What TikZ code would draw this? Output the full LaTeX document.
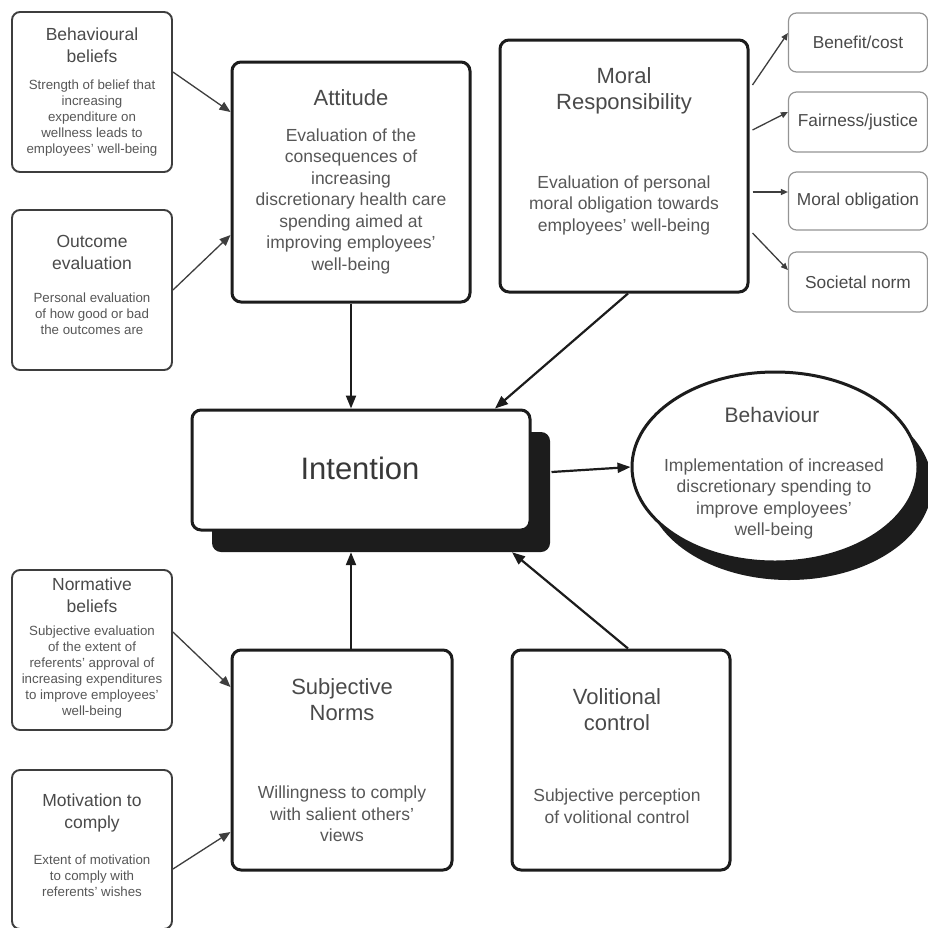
\documentclass[tikz,border=0pt]{standalone}
\usepackage{fontspec}
\setmainfont{Liberation Sans}
\usetikzlibrary{arrows.meta,shapes.geometric}
\definecolor{ttl}{HTML}{4A4A4A}
\definecolor{bdy}{HTML}{575757}
\definecolor{ink}{HTML}{1C1C1C}
\begin{document}
\begin{tikzpicture}[x=1pt,y=-1pt,
  smallbox/.style={draw=ink!85, line width=1.9pt, rounded corners=8pt, fill=white, inner sep=0pt},
  mainbox/.style={draw=ink, line width=3pt, rounded corners=9pt, fill=white, inner sep=0pt},
  optbox/.style={draw=black!42, line width=1.2pt, rounded corners=8pt, fill=white, inner sep=0pt},
  mtitle/.style={align=center, text=ttl, font=\fontsize{22}{26}\selectfont, inner sep=0pt},
  mbody/.style={align=center, text=bdy, font=\fontsize{17.5}{21.5}\selectfont, inner sep=0pt},
  stitle/.style={align=center, text=ttl, font=\fontsize{17.5}{22}\selectfont, inner sep=0pt},
  sbody/.style={align=center, text=bdy, font=\fontsize{13.3}{16}\selectfont, inner sep=0pt},
  otext/.style={align=center, text=ttl, font=\fontsize{17.3}{21}\selectfont, inner sep=0pt},
  bigarr/.style={draw=ink, line width=2.2pt, -{Triangle[length=13pt,width=10pt]}},
  smallarr/.style={draw=ink!85, line width=1.3pt, -{Triangle[length=11pt,width=9pt]}},
  optarr/.style={draw=ink!85, line width=1.3pt, -{Triangle[length=7pt,width=6pt]}}
]
\useasboundingbox (0,0) rectangle (928,927);
\clip (0,0) rectangle (928,927);
\fill[white] (0,0) rectangle (928,927);

% left column boxes
\node[smallbox, minimum width=160pt, minimum height=160pt] (bb) at (92,92) {};
\node[stitle] (bbt) at (92,45) {Behavioural\\beliefs};
\node[sbody] (bbb) at (92,118) {Strength of belief that\\increasing\\expenditure on\\wellness leads to\\employees’ well-being};

\node[smallbox, minimum width=160pt, minimum height=160pt] (oe) at (92,290) {};
\node[stitle] (oet) at (92,252) {Outcome\\evaluation};
\node[sbody] (oeb) at (92,314) {Personal evaluation\\of how good or bad\\the outcomes are};

\node[smallbox, minimum width=160pt, minimum height=160pt] (nb) at (92,650) {};
\node[stitle] (nbt) at (92,595) {Normative\\beliefs};
\node[sbody] (nbb) at (92,672) {Subjective evaluation\\of the extent of\\referents’ approval of\\increasing expenditures\\to improve employees’\\well-being};

\node[smallbox, minimum width=160pt, minimum height=159pt] (mc) at (92,849.5) {};
\node[stitle] (mct) at (92,813) {Motivation to\\comply};
\node[sbody] (mcb) at (92,876) {Extent of motivation\\to comply with\\referents’ wishes};

% main boxes
\node[mainbox, minimum width=238pt, minimum height=240pt] (att) at (351,182) {};
\node[mtitle] (attt) at (351,98) {Attitude};
\node[mbody] (attb) at (351,201) {Evaluation of the\\consequences of\\increasing\\discretionary health care\\spending aimed at\\improving employees’\\well-being};

\node[mainbox, minimum width=248pt, minimum height=252pt] (mor) at (624,166) {};
\node[mtitle] (mort) at (624,91) {Moral\\Responsibility};
\node[mbody] (morb) at (624,205) {Evaluation of personal\\moral obligation towards\\employees’ well-being};

% option boxes on the right
\node[optbox, minimum width=139pt, minimum height=59pt] (ben) at (858,42.5) {};
\node[otext] at (ben) {Benefit/cost};
\node[optbox, minimum width=139pt, minimum height=60pt] (fair) at (858,122) {};
\node[otext] at (fair) {Fairness/justice};
\node[optbox, minimum width=139pt, minimum height=58pt] (mob) at (858,201) {};
\node[otext] at (mob) {Moral obligation};
\node[optbox, minimum width=139pt, minimum height=60pt] (soc) at (858,282) {};
\node[otext] at (soc) {Societal norm};

% intention with shadow
\node[fill=ink, rounded corners=9pt, minimum width=338pt, minimum height=120pt, inner sep=0pt] (intsh) at (381,492) {};
\node[mainbox, minimum width=338pt, minimum height=120pt] (int) at (361,470) {};
\node[text=black!78, font=\fontsize{31}{36}\selectfont, inner sep=0pt] (intt) at (360,468) {Intention};

% behaviour ellipse with shadow
\node[ellipse, fill=ink, minimum width=286pt, minimum height=190pt, inner sep=0pt] (behsh) at (789,485) {};
\node[ellipse, draw=ink, line width=3pt, fill=white, minimum width=286pt, minimum height=190pt, inner sep=0pt] (beh) at (775,467) {};
\node[mtitle, font=\fontsize{21}{25}\selectfont] (beht) at (772,415) {Behaviour};
\node[mbody] (behb) at (774,499) {Implementation of increased\\discretionary spending to\\improve employees’\\well-being};

% lower main boxes
\node[mainbox, minimum width=220pt, minimum height=220pt] (sn) at (342,760) {};
\node[mtitle] (snt) at (342,700) {Subjective\\Norms};
\node[mbody] (snb) at (342,814) {Willingness to comply\\with salient others’\\views};

\node[mainbox, minimum width=218pt, minimum height=220pt] (vc) at (621,760) {};
\node[mtitle] (vct) at (617,710) {Volitional\\control};
\node[mbody] (vcb) at (617,806) {Subjective perception\\of volitional control};

% connectors
\draw[smallarr] ([yshift=20pt]bb.east) -- ([yshift=70pt]att.west);
\draw[smallarr] (oe.east) -- ([yshift=-53pt]att.west);
\draw[smallarr] ([yshift=18pt]nb.east) -- ([yshift=73pt]sn.west);
\draw[smallarr] ([yshift=-19.5pt]mc.east) -- ([yshift=-72pt]sn.west);

\draw[bigarr] (att.south) -- (att.south |- int.north);
\draw[bigarr] ([xshift=4pt]mor.south) -- ([xshift=134pt]int.north);
\draw[bigarr] ([xshift=9pt]sn.north) -- ([xshift=9pt]sn.north |- intsh.south);
\draw[bigarr] ([xshift=7pt]vc.north) -- ([xshift=131pt]intsh.south);
\draw[bigarr] ([xshift=20pt,yshift=-2pt]int.east) -- (beh.west);

\draw[optarr] ([xshift=3pt,yshift=81pt]mor.east) -- ([yshift=9.5pt]ben.west);
\draw[optarr] ([xshift=3pt,yshift=36pt]mor.east) -- ([yshift=10pt]fair.west);
\draw[optarr] ([xshift=3pt,yshift=-26pt]mor.east) -- ([yshift=9pt]mob.west);
\draw[optarr] ([xshift=3pt,yshift=-67pt]mor.east) -- ([yshift=12pt]soc.west);
\end{tikzpicture}
\end{document}
